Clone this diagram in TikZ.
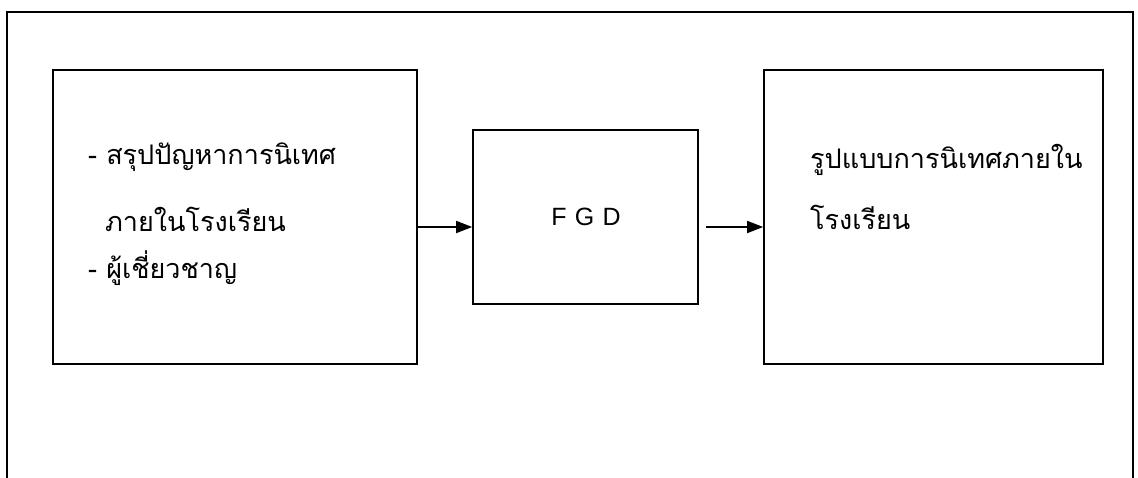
\documentclass[tikz,border=0pt]{standalone}
\usepackage{fontspec}
\setmainfont{Liberation Sans}
\newfontfamily\thaifont[Script=Thai]{Loma}
\usetikzlibrary{arrows.meta}

\begin{document}
\begin{tikzpicture}[x=1pt,y=-1pt,>={Triangle[length=16pt,width=12pt]},
    box/.style={draw,line width=1.6pt,inner sep=0pt},
    thai/.style={font=\thaifont\fontsize{27}{32}\selectfont,anchor=west,inner sep=0pt},
    flow/.style={->,line width=1.6pt}]
  \useasboundingbox (0,0) rectangle (1138,478);

  % outer frame, open at the bottom
  \draw[line width=1.3pt] (7,478) -- (7,12) -- (1133,12) -- (1133,478);

  % the three boxes
  \node[box,minimum width=364pt,minimum height=294pt] (problems) at (235,217) {};
  \node[box,minimum width=225pt,minimum height=174pt] (fgd) at (585.5,217) {};
  \node[box,minimum width=339pt,minimum height=294pt] (model) at (933.5,217) {};

  % texts
  \node[thai] (probA) at (88,157) {- สรุปปัญหาการนิเทศ};
  \node[thai] (probB) at (105,219) {ภายในโรงเรียน};
  \node[thai] (probC) at (88,268) {- ผู้เชี่ยวชาญ};
  \node[font=\fontsize{25}{30}\selectfont,inner sep=0pt] (fgdlabel) at (586,217) {F\,\,G\,\,D};
  \node[thai] (modelA) at (810,160) {รูปแบบการนิเทศภายใน};
  \node[thai] (modelB) at (810,217) {โรงเรียน};

  % connectors
  \draw[flow] ([yshift=-10pt]problems.east) -- ([yshift=-10pt]fgd.west);
  \draw[flow,shorten <=7pt] ([yshift=-10pt]fgd.east) -- ([yshift=-10pt]model.west);
\end{tikzpicture}
\end{document}
